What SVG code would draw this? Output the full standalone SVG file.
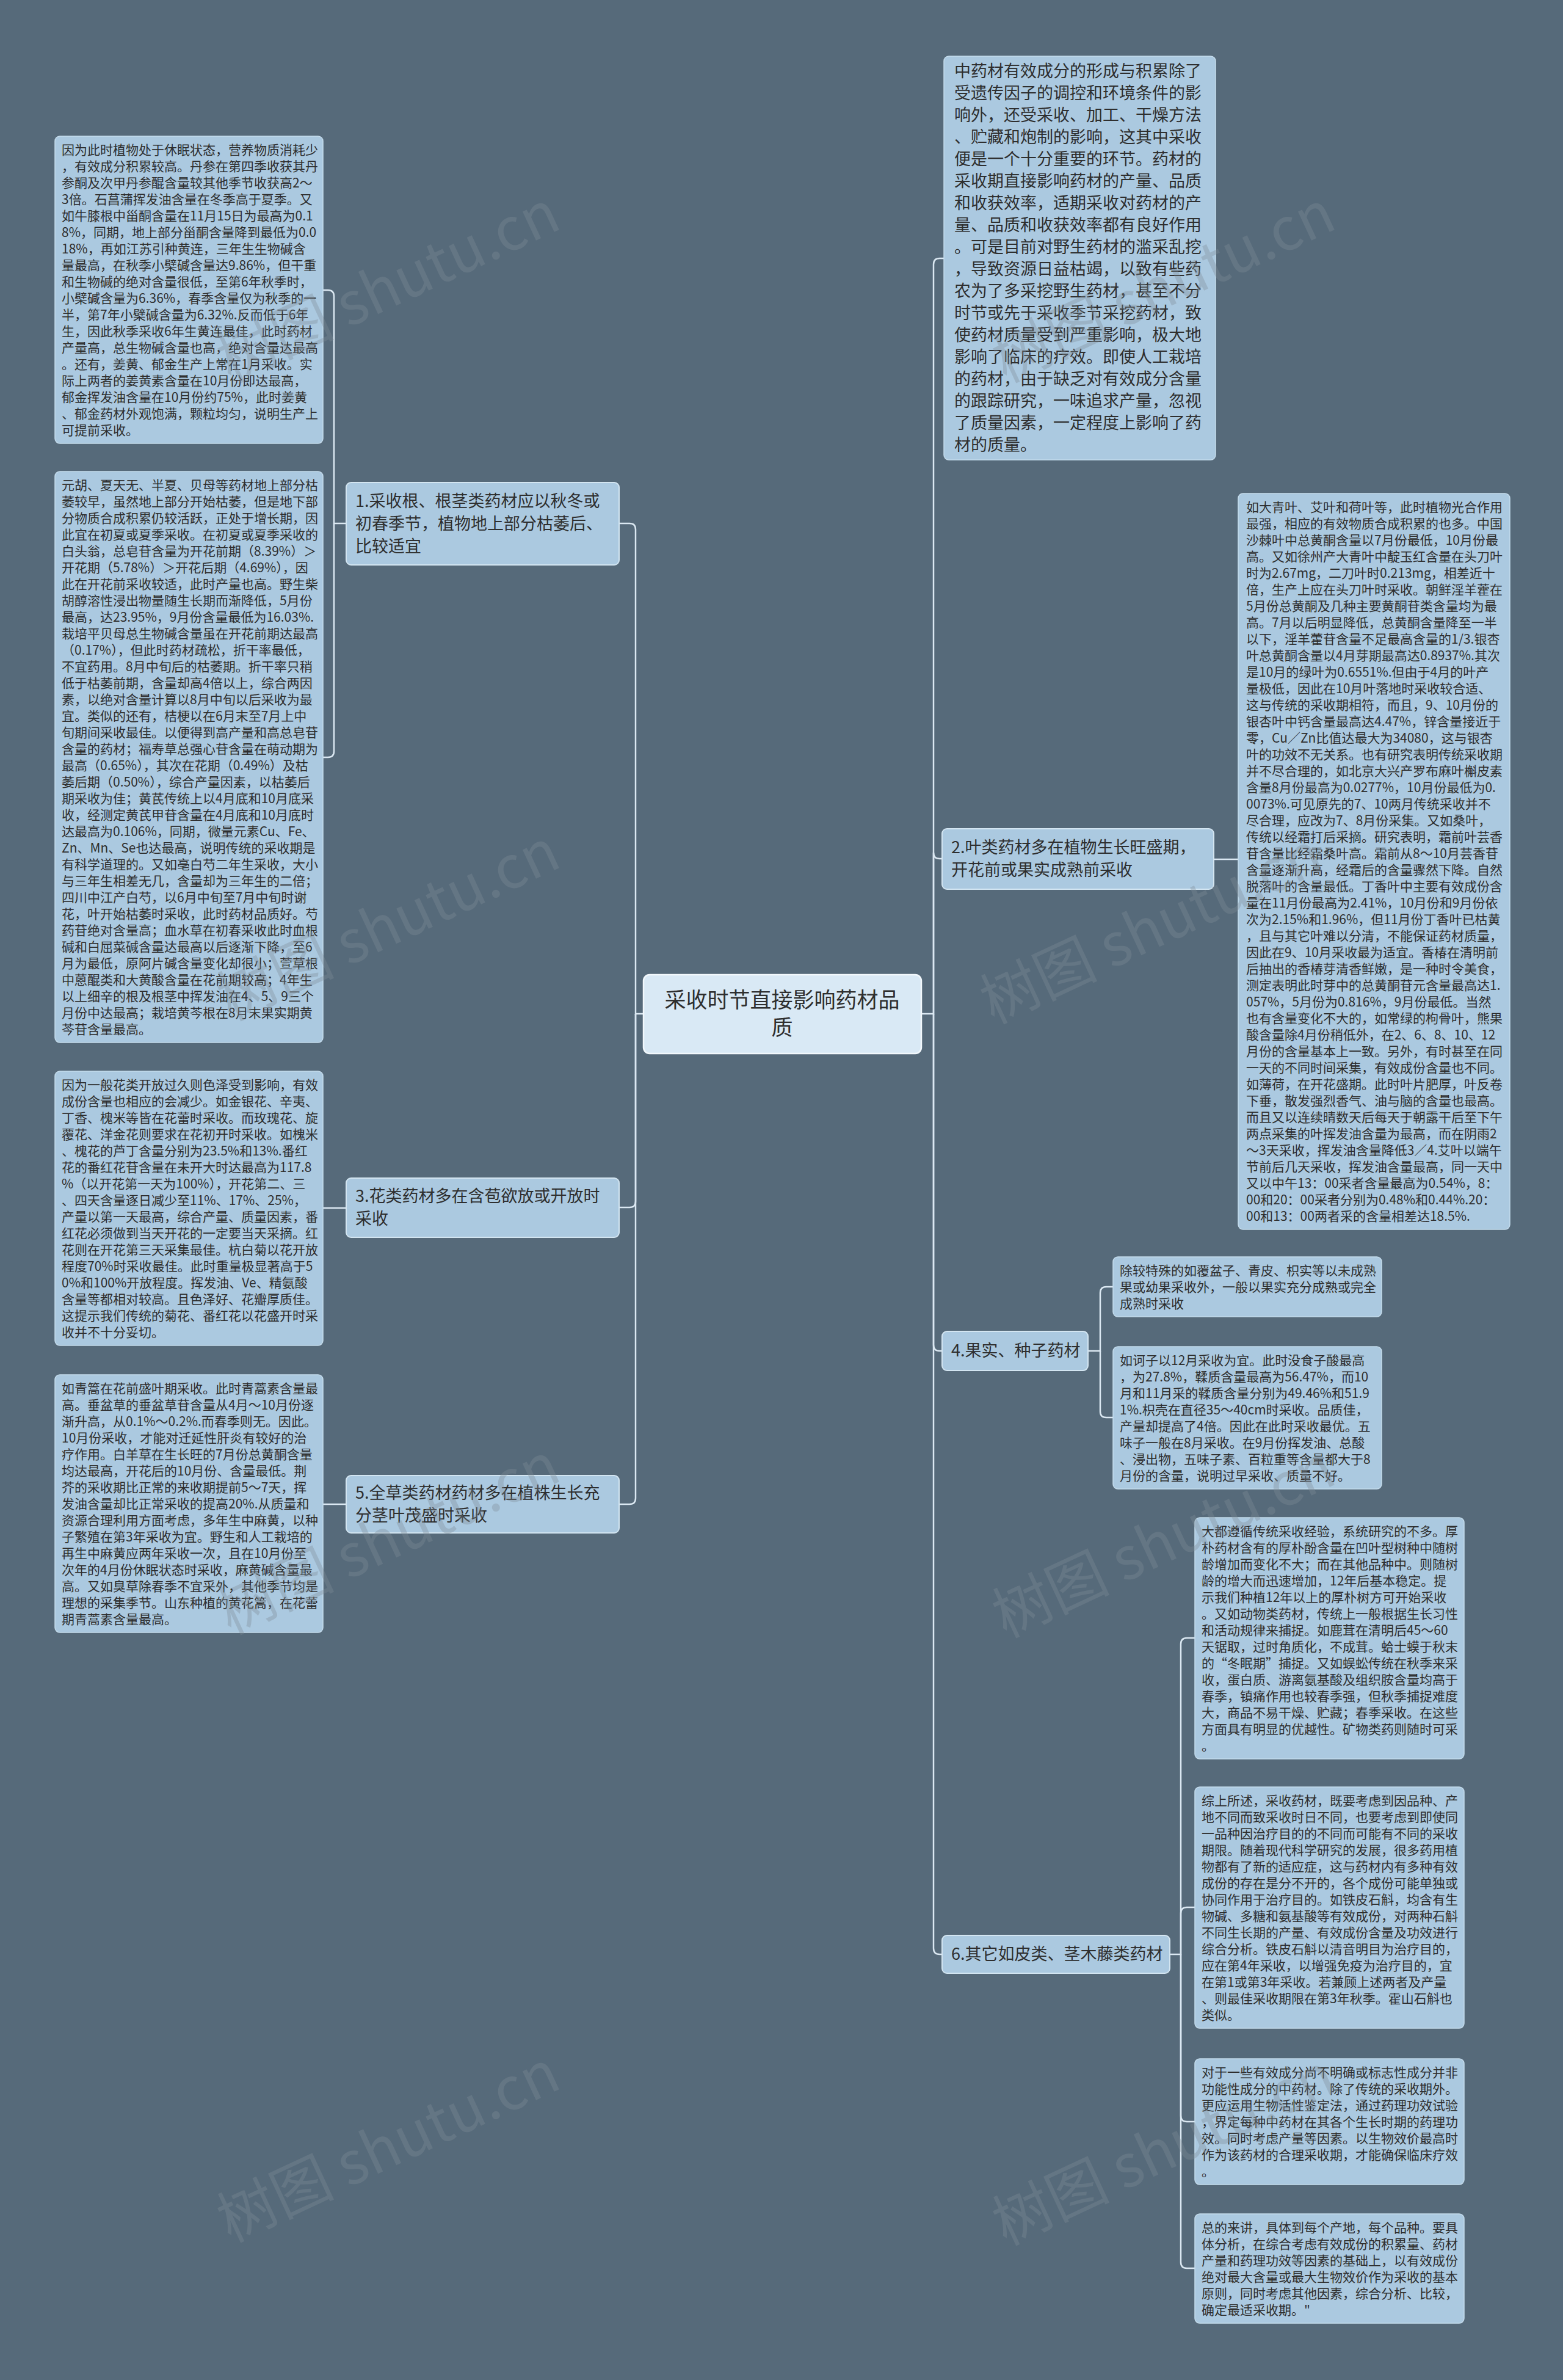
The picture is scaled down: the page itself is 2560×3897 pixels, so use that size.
<svg xmlns="http://www.w3.org/2000/svg" width="2560" height="3897" viewBox="0 0 2560 3897">
<style>
.bg{fill:#566a7a}
.box{fill:#abc9e0;stroke:#c4dbeb;stroke-width:1.5}
.bnode{fill:#abc9e0;stroke:#d3e5f1;stroke-width:2}
.cnode{fill:#d9e9f5;stroke:#f2f8fc;stroke-width:2.5}
.t{font-family:"Noto Sans CJK SC","Noto Sans",sans-serif;font-size:21px;fill:#2e2e2e}
.bt{font-family:"Noto Sans CJK SC","Noto Sans",sans-serif;font-size:27px;fill:#2e2e2e}
.ct{font-family:"Noto Sans CJK SC","Noto Sans",sans-serif;font-size:35px;fill:#2e2e2e;text-anchor:middle}
.link{fill:none;stroke:#dbe8f2;stroke-width:2.5}
.wm{font-family:"Noto Sans CJK SC","Noto Sans",sans-serif;font-size:96px;fill:#808d98;opacity:0.35;text-anchor:middle}
</style>
<rect class="bg" x="0" y="0" width="2560" height="3897"/>

<g id="connectors">
<!-- left side -->
<path class="link" d="M1054,1660 H1041 V867 Q1041,857 1031,857 H1014"/>
<path class="link" d="M1041,1660 V1967 Q1041,1977 1031,1977 H1014"/>
<path class="link" d="M1041,1660 V2453 Q1041,2463 1031,2463 H1014"/>
<path class="link" d="M567,857 H547 V485 Q547,475 537,475 H529"/>
<path class="link" d="M547,857 V1230 Q547,1240 537,1240 H529"/>
<path class="link" d="M567,1978 H529"/>
<path class="link" d="M567,2463 H529"/>
<!-- right side -->
<path class="link" d="M1509,1660 H1529 V433 Q1529,423 1539,423 H1546"/>
<path class="link" d="M1529,1660 V1396 Q1529,1406 1539,1406 H1543"/>
<path class="link" d="M1529,1660 V2202 Q1529,2212 1539,2212 H1543"/>
<path class="link" d="M1529,1660 V3190 Q1529,3200 1539,3200 H1543"/>
<path class="link" d="M1988,1407 H2028"/>
<path class="link" d="M1782,2212 H1802 V2117 Q1802,2107 1812,2107 H1823"/>
<path class="link" d="M1802,2212 V2311 Q1802,2321 1812,2321 H1823"/>
<path class="link" d="M1916,3200 H1934 V2692 Q1934,2682 1944,2682 H1957"/>
<path class="link" d="M1934,3200 V3133 Q1934,3123 1944,3123 H1957"/>
<path class="link" d="M1934,3200 V3464 Q1934,3474 1944,3474 H1957"/>
<path class="link" d="M1934,3200 V3704 Q1934,3714 1944,3714 H1957"/>
</g>

<g id="center">
<rect class="cnode" x="1054" y="1596" width="455" height="129" rx="10"/>
<text class="ct" y="1650"><tspan x="1281">采收时节直接影响药材品</tspan><tspan x="1281" dy="45">质</tspan></text>
</g>

<g id="branch1">
<rect class="bnode" x="567" y="790" width="447" height="135" rx="8"/>
<text class="bt" y="830"><tspan x="582">1.采收根、根茎类药材应以秋冬或</tspan><tspan x="582" dy="37">初春季节，植物地上部分枯萎后、</tspan><tspan x="582" dy="37">比较适宜</tspan></text>
</g>

<g id="branch3">
<rect class="bnode" x="567" y="1929" width="447" height="97" rx="8"/>
<text class="bt" y="1968"><tspan x="582">3.花类药材多在含苞欲放或开放时</tspan><tspan x="582" dy="37">采收</tspan></text>
</g>

<g id="branch5">
<rect class="bnode" x="567" y="2416" width="447" height="94" rx="8"/>
<text class="bt" y="2454"><tspan x="582">5.全草类药材药材多在植株生长充</tspan><tspan x="582" dy="37">分茎叶茂盛时采收</tspan></text>
</g>

<g id="branch2">
<rect class="bnode" x="1543" y="1357" width="445" height="99" rx="8"/>
<text class="bt" y="1397"><tspan x="1558">2.叶类药材多在植物生长旺盛期，</tspan><tspan x="1558" dy="37">开花前或果实成熟前采收</tspan></text>
</g>

<g id="branch4">
<rect class="bnode" x="1543" y="2180" width="239" height="64" rx="8"/>
<text class="bt" x="1558" y="2221">4.果实、种子药材</text>
</g>

<g id="branch6">
<rect class="bnode" x="1543" y="3169" width="373" height="62" rx="8"/>
<text class="bt" x="1558" y="3209">6.其它如皮类、茎木藤类药材</text>
</g>

<g id="intro">
<rect class="box" x="1546" y="92" width="445" height="661" rx="8"/>
<text class="bt" y="126"><tspan x="1563">中药材有效成分的形成与积累除了</tspan><tspan x="1563" dy="36">受遗传因子的调控和环境条件的影</tspan><tspan x="1563" dy="36">响外，还受采收、加工、干燥方法</tspan><tspan x="1563" dy="36">、贮藏和炮制的影响，这其中采收</tspan><tspan x="1563" dy="36">便是一个十分重要的环节。药材的</tspan><tspan x="1563" dy="36">采收期直接影响药材的产量、品质</tspan><tspan x="1563" dy="36">和收获效率，适期采收对药材的产</tspan><tspan x="1563" dy="36">量、品质和收获效率都有良好作用</tspan><tspan x="1563" dy="36">。可是目前对野生药材的滥采乱挖</tspan><tspan x="1563" dy="36">，导致资源日益枯竭，以致有些药</tspan><tspan x="1563" dy="36">农为了多采挖野生药材，甚至不分</tspan><tspan x="1563" dy="36">时节或先于采收季节采挖药材，致</tspan><tspan x="1563" dy="36">使药材质量受到严重影响，极大地</tspan><tspan x="1563" dy="36">影响了临床的疗效。即使人工栽培</tspan><tspan x="1563" dy="36">的药材，由于缺乏对有效成分含量</tspan><tspan x="1563" dy="36">的跟踪研究，一味追求产量，忽视</tspan><tspan x="1563" dy="36">了质量因素，一定程度上影响了药</tspan><tspan x="1563" dy="36">材的质量。</tspan></text>
</g>

<g id="leaf1a">
<rect class="box" x="90" y="223" width="439" height="503" rx="8"/>
<text class="t" y="253"><tspan x="101">因为此时植物处于休眠状态，营养物质消耗少</tspan><tspan x="101" dy="27">，有效成分积累较高。丹参在第四季收获其丹</tspan><tspan x="101" dy="27">参酮及次甲丹参醌含量较其他季节收获高2～</tspan><tspan x="101" dy="27">3倍。石菖蒲挥发油含量在冬季高于夏季。又</tspan><tspan x="101" dy="27">如牛膝根中甾酮含量在11月15日为最高为0.1</tspan><tspan x="101" dy="27">8%，同期，地上部分甾酮含量降到最低为0.0</tspan><tspan x="101" dy="27">18%，再如江苏引种黄连，三年生生物碱含</tspan><tspan x="101" dy="27">量最高，在秋季小檗碱含量达9.86%，但干重</tspan><tspan x="101" dy="27">和生物碱的绝对含量很低，至第6年秋季时，</tspan><tspan x="101" dy="27">小檗碱含量为6.36%，春季含量仅为秋季的一</tspan><tspan x="101" dy="27">半，第7年小檗碱含量为6.32%.反而低于6年</tspan><tspan x="101" dy="27">生，因此秋季采收6年生黄连最佳，此时药材</tspan><tspan x="101" dy="27">产量高，总生物碱含量也高，绝对含量达最高</tspan><tspan x="101" dy="27">。还有，姜黄、郁金生产上常在1月采收。实</tspan><tspan x="101" dy="27">际上两者的姜黄素含量在10月份即达最高，</tspan><tspan x="101" dy="27">郁金挥发油含量在10月份约75%，此时姜黄</tspan><tspan x="101" dy="27">、郁金药材外观饱满，颗粒均匀，说明生产上</tspan><tspan x="101" dy="27">可提前采收。</tspan></text>
</g>

<g id="leaf1b">
<rect class="box" x="90" y="772" width="439" height="935" rx="8"/>
<text class="t" y="802"><tspan x="101">元胡、夏天无、半夏、贝母等药材地上部分枯</tspan><tspan x="101" dy="27">萎较早，虽然地上部分开始枯萎，但是地下部</tspan><tspan x="101" dy="27">分物质合成积累仍较活跃，正处于增长期，因</tspan><tspan x="101" dy="27">此宜在初夏或夏季采收。在初夏或夏季采收的</tspan><tspan x="101" dy="27">白头翁，总皂苷含量为开花前期（8.39%）＞</tspan><tspan x="101" dy="27">开花期（5.78%）＞开花后期（4.69%），因</tspan><tspan x="101" dy="27">此在开花前采收较适，此时产量也高。野生柴</tspan><tspan x="101" dy="27">胡醇溶性浸出物量随生长期而渐降低，5月份</tspan><tspan x="101" dy="27">最高，达23.95%，9月份含量最低为16.03%.</tspan><tspan x="101" dy="27">栽培平贝母总生物碱含量虽在开花前期达最高</tspan><tspan x="101" dy="27">（0.17%），但此时药材疏松，折干率最低，</tspan><tspan x="101" dy="27">不宜药用。8月中旬后的枯萎期。折干率只稍</tspan><tspan x="101" dy="27">低于枯萎前期，含量却高4倍以上，综合两因</tspan><tspan x="101" dy="27">素，以绝对含量计算以8月中旬以后采收为最</tspan><tspan x="101" dy="27">宜。类似的还有，桔梗以在6月末至7月上中</tspan><tspan x="101" dy="27">旬期间采收最佳。以便得到高产量和高总皂苷</tspan><tspan x="101" dy="27">含量的药材；福寿草总强心苷含量在萌动期为</tspan><tspan x="101" dy="27">最高（0.65%），其次在花期（0.49%）及枯</tspan><tspan x="101" dy="27">萎后期（0.50%），综合产量因素，以枯萎后</tspan><tspan x="101" dy="27">期采收为佳；黄芪传统上以4月底和10月底采</tspan><tspan x="101" dy="27">收，经测定黄芪甲苷含量在4月底和10月底时</tspan><tspan x="101" dy="27">达最高为0.106%，同期，微量元素Cu、Fe、</tspan><tspan x="101" dy="27">Zn、Mn、Se也达最高，说明传统的采收期是</tspan><tspan x="101" dy="27">有科学道理的。又如亳白芍二年生采收，大小</tspan><tspan x="101" dy="27">与三年生相差无几，含量却为三年生的二倍；</tspan><tspan x="101" dy="27">四川中江产白芍，以6月中旬至7月中旬时谢</tspan><tspan x="101" dy="27">花，叶开始枯萎时采收，此时药材品质好。芍</tspan><tspan x="101" dy="27">药苷绝对含量高；血水草在初春采收此时血根</tspan><tspan x="101" dy="27">碱和白屈菜碱含量达最高以后逐渐下降，至6</tspan><tspan x="101" dy="27">月为最低，原阿片碱含量变化却很小；萱草根</tspan><tspan x="101" dy="27">中蒽醌类和大黄酸含量在花前期较高；4年生</tspan><tspan x="101" dy="27">以上细辛的根及根茎中挥发油在4、5、9三个</tspan><tspan x="101" dy="27">月份中达最高；栽培黄芩根在8月末果实期黄</tspan><tspan x="101" dy="27">芩苷含量最高。</tspan></text>
</g>

<g id="leaf3">
<rect class="box" x="90" y="1754" width="439" height="449" rx="8"/>
<text class="t" y="1784"><tspan x="101">因为一般花类开放过久则色泽受到影响，有效</tspan><tspan x="101" dy="27">成份含量也相应的会减少。如金银花、辛夷、</tspan><tspan x="101" dy="27">丁香、槐米等皆在花蕾时采收。而玫瑰花、旋</tspan><tspan x="101" dy="27">覆花、洋金花则要求在花初开时采收。如槐米</tspan><tspan x="101" dy="27">、槐花的芦丁含量分别为23.5%和13%.番红</tspan><tspan x="101" dy="27">花的番红花苷含量在未开大时达最高为117.8</tspan><tspan x="101" dy="27">%（以开花第一天为100%），开花第二、三</tspan><tspan x="101" dy="27">、四天含量逐日减少至11%、17%、25%，</tspan><tspan x="101" dy="27">产量以第一天最高，综合产量、质量因素，番</tspan><tspan x="101" dy="27">红花必须做到当天开花的一定要当天采摘。红</tspan><tspan x="101" dy="27">花则在开花第三天采集最佳。杭白菊以花开放</tspan><tspan x="101" dy="27">程度70%时采收最佳。此时重量极显著高于5</tspan><tspan x="101" dy="27">0%和100%开放程度。挥发油、Ve、精氨酸</tspan><tspan x="101" dy="27">含量等都相对较高。且色泽好、花瓣厚质佳。</tspan><tspan x="101" dy="27">这提示我们传统的菊花、番红花以花盛开时采</tspan><tspan x="101" dy="27">收并不十分妥切。</tspan></text>
</g>

<g id="leaf5">
<rect class="box" x="90" y="2251" width="439" height="422" rx="8"/>
<text class="t" y="2281"><tspan x="101">如青篙在花前盛叶期采收。此时青蒿素含量最</tspan><tspan x="101" dy="27">高。垂盆草的垂盆草苷含量从4月～10月份逐</tspan><tspan x="101" dy="27">渐升高，从0.1%～0.2%.而春季则无。因此。</tspan><tspan x="101" dy="27">10月份采收，才能对迁延性肝炎有较好的治</tspan><tspan x="101" dy="27">疗作用。白羊草在生长旺的7月份总黄酮含量</tspan><tspan x="101" dy="27">均达最高，开花后的10月份、含量最低。荆</tspan><tspan x="101" dy="27">芥的采收期比正常的来收期提前5～7天，挥</tspan><tspan x="101" dy="27">发油含量却比正常采收的提高20%.从质量和</tspan><tspan x="101" dy="27">资源合理利用方面考虑，多年生中麻黄，以种</tspan><tspan x="101" dy="27">子繁殖在第3年采收为宜。野生和人工栽培的</tspan><tspan x="101" dy="27">再生中麻黄应两年采收一次，且在10月份至</tspan><tspan x="101" dy="27">次年的4月份休眠状态时采收，麻黄碱含量最</tspan><tspan x="101" dy="27">高。又如臭草除春季不宜采外，其他季节均是</tspan><tspan x="101" dy="27">理想的采集季节。山东种植的黄花篙，在花蕾</tspan><tspan x="101" dy="27">期青蒿素含量最高。</tspan></text>
</g>

<g id="leaf2">
<rect class="box" x="2028" y="808" width="445" height="1205" rx="8"/>
<text class="t" y="838"><tspan x="2041">如大青叶、艾叶和荷叶等，此时植物光合作用</tspan><tspan x="2041" dy="27">最强，相应的有效物质合成积累的也多。中国</tspan><tspan x="2041" dy="27">沙棘叶中总黄酮含量以7月份最低，10月份最</tspan><tspan x="2041" dy="27">高。又如徐州产大青叶中靛玉红含量在头刀叶</tspan><tspan x="2041" dy="27">时为2.67mg，二刀叶时0.213mg，相差近十</tspan><tspan x="2041" dy="27">倍，生产上应在头刀叶时采收。朝鲜淫羊藿在</tspan><tspan x="2041" dy="27">5月份总黄酮及几种主要黄酮苷类含量均为最</tspan><tspan x="2041" dy="27">高。7月以后明显降低，总黄酮含量降至一半</tspan><tspan x="2041" dy="27">以下，淫羊藿苷含量不足最高含量的1/3.银杏</tspan><tspan x="2041" dy="27">叶总黄酮含量以4月芽期最高达0.8937%.其次</tspan><tspan x="2041" dy="27">是10月的绿叶为0.6551%.但由于4月的叶产</tspan><tspan x="2041" dy="27">量极低，因此在10月叶落地时采收较合适、</tspan><tspan x="2041" dy="27">这与传统的采收期相符，而且，9、10月份的</tspan><tspan x="2041" dy="27">银杏叶中钙含量最高达4.47%，锌含量接近于</tspan><tspan x="2041" dy="27">零，Cu／Zn比值达最大为34080，这与银杏</tspan><tspan x="2041" dy="27">叶的功效不无关系。也有研究表明传统采收期</tspan><tspan x="2041" dy="27">并不尽合理的，如北京大兴产罗布麻叶槲皮素</tspan><tspan x="2041" dy="27">含量8月份最高为0.0277%，10月份最低为0.</tspan><tspan x="2041" dy="27">0073%.可见原先的7、10两月传统采收并不</tspan><tspan x="2041" dy="27">尽合理，应改为7、8月份采集。又如桑叶，</tspan><tspan x="2041" dy="27">传统以经霜打后采摘。研究表明，霜前叶芸香</tspan><tspan x="2041" dy="27">苷含量比经霜桑叶高。霜前从8～10月芸香苷</tspan><tspan x="2041" dy="27">含量逐渐升高，经霜后的含量骤然下降。自然</tspan><tspan x="2041" dy="27">脱落叶的含量最低。丁香叶中主要有效成份含</tspan><tspan x="2041" dy="27">量在11月份最高为2.41%，10月份和9月份依</tspan><tspan x="2041" dy="27">次为2.15%和1.96%，但11月份丁香叶已枯黄</tspan><tspan x="2041" dy="27">，且与其它叶难以分清，不能保证药材质量，</tspan><tspan x="2041" dy="27">因此在9、10月采收最为适宜。香椿在清明前</tspan><tspan x="2041" dy="27">后抽出的香椿芽清香鲜嫩，是一种时令美食，</tspan><tspan x="2041" dy="27">测定表明此时芽中的总黄酮苷元含量最高达1.</tspan><tspan x="2041" dy="27">057%，5月份为0.816%，9月份最低。当然</tspan><tspan x="2041" dy="27">也有含量变化不大的，如常绿的枸骨叶，熊果</tspan><tspan x="2041" dy="27">酸含量除4月份稍低外，在2、6、8、10、12</tspan><tspan x="2041" dy="27">月份的含量基本上一致。另外，有时甚至在同</tspan><tspan x="2041" dy="27">一天的不同时间采集，有效成份含量也不同。</tspan><tspan x="2041" dy="27">如薄荷，在开花盛期。此时叶片肥厚，叶反卷</tspan><tspan x="2041" dy="27">下垂，散发强烈香气、油与脑的含量也最高。</tspan><tspan x="2041" dy="27">而且又以连续晴数天后每天于朝露干后至下午</tspan><tspan x="2041" dy="27">两点采集的叶挥发油含量为最高，而在阴雨2</tspan><tspan x="2041" dy="27">～3天采收，挥发油含量降低3／4.艾叶以端午</tspan><tspan x="2041" dy="27">节前后几天采收，挥发油含量最高，同一天中</tspan><tspan x="2041" dy="27">又以中午13：00采者含量最高为0.54%，8：</tspan><tspan x="2041" dy="27">00和20：00采者分别为0.48%和0.44%.20：</tspan><tspan x="2041" dy="27">00和13：00两者采的含量相差达18.5%.</tspan></text>
</g>

<g id="leaf4a">
<rect class="box" x="1823" y="2058" width="440" height="98" rx="8"/>
<text class="t" y="2088"><tspan x="1834">除较特殊的如覆盆子、青皮、枳实等以未成熟</tspan><tspan x="1834" dy="27">果或幼果采收外，一般以果实充分成熟或完全</tspan><tspan x="1834" dy="27">成熟时采收</tspan></text>
</g>

<g id="leaf4b">
<rect class="box" x="1823" y="2205" width="440" height="233" rx="8"/>
<text class="t" y="2235"><tspan x="1834">如诃子以12月采收为宜。此时没食子酸最高</tspan><tspan x="1834" dy="27">，为27.8%，鞣质含量最高为56.47%，而10</tspan><tspan x="1834" dy="27">月和11月采的鞣质含量分别为49.46%和51.9</tspan><tspan x="1834" dy="27">1%.枳壳在直径35～40cm时采收。品质佳，</tspan><tspan x="1834" dy="27">产量却提高了4倍。因此在此时采收最优。五</tspan><tspan x="1834" dy="27">味子一般在8月采收。在9月份挥发油、总酸</tspan><tspan x="1834" dy="27">、浸出物，五味子素、百粒重等含量都大于8</tspan><tspan x="1834" dy="27">月份的含量，说明过早采收、质量不好。</tspan></text>
</g>

<g id="leaf6a">
<rect class="box" x="1957" y="2485" width="441" height="395" rx="8"/>
<text class="t" y="2515"><tspan x="1968">大都遵循传统采收经验，系统研究的不多。厚</tspan><tspan x="1968" dy="27">朴药材含有的厚朴酚含量在凹叶型树种中随树</tspan><tspan x="1968" dy="27">龄增加而变化不大；而在其他品种中。则随树</tspan><tspan x="1968" dy="27">龄的增大而迅速增加，12年后基本稳定。提</tspan><tspan x="1968" dy="27">示我们种植12年以上的厚朴树方可开始采收</tspan><tspan x="1968" dy="27">。又如动物类药材，传统上一般根据生长习性</tspan><tspan x="1968" dy="27">和活动规律来捕捉。如鹿茸在清明后45～60</tspan><tspan x="1968" dy="27">天锯取，过时角质化，不成茸。蛤士蟆于秋末</tspan><tspan x="1968" dy="27">的“冬眠期”捕捉。又如蜈蚣传统在秋季来采</tspan><tspan x="1968" dy="27">收，蛋白质、游离氨基酸及组织胺含量均高于</tspan><tspan x="1968" dy="27">春季，镇痛作用也较春季强，但秋季捕捉难度</tspan><tspan x="1968" dy="27">大，商品不易干燥、贮藏；春季采收。在这些</tspan><tspan x="1968" dy="27">方面具有明显的优越性。矿物类药则随时可采</tspan><tspan x="1968" dy="27">。</tspan></text>
</g>

<g id="leaf6b">
<rect class="box" x="1957" y="2926" width="441" height="395" rx="8"/>
<text class="t" y="2956"><tspan x="1968">综上所述，采收药材，既要考虑到因品种、产</tspan><tspan x="1968" dy="27">地不同而致采收时日不同，也要考虑到即使同</tspan><tspan x="1968" dy="27">一品种因治疗目的的不同而可能有不同的采收</tspan><tspan x="1968" dy="27">期限。随着现代科学研究的发展，很多药用植</tspan><tspan x="1968" dy="27">物都有了新的适应症，这与药材内有多种有效</tspan><tspan x="1968" dy="27">成份的存在是分不开的，各个成份可能单独或</tspan><tspan x="1968" dy="27">协同作用于治疗目的。如铁皮石斛，均含有生</tspan><tspan x="1968" dy="27">物碱、多糖和氨基酸等有效成份，对两种石斛</tspan><tspan x="1968" dy="27">不同生长期的产量、有效成份含量及功效进行</tspan><tspan x="1968" dy="27">综合分析。铁皮石斛以清音明目为治疗目的，</tspan><tspan x="1968" dy="27">应在第4年采收，以增强免疫为治疗目的，宜</tspan><tspan x="1968" dy="27">在第1或第3年采收。若兼顾上述两者及产量</tspan><tspan x="1968" dy="27">、则最佳采收期限在第3年秋季。霍山石斛也</tspan><tspan x="1968" dy="27">类似。</tspan></text>
</g>

<g id="leaf6c">
<rect class="box" x="1957" y="3371" width="441" height="206" rx="8"/>
<text class="t" y="3401"><tspan x="1968">对于一些有效成分尚不明确或标志性成分并非</tspan><tspan x="1968" dy="27">功能性成分的中药材。除了传统的采收期外。</tspan><tspan x="1968" dy="27">更应运用生物活性鉴定法，通过药理功效试验</tspan><tspan x="1968" dy="27">，界定每种中药材在其各个生长时期的药理功</tspan><tspan x="1968" dy="27">效。同时考虑产量等因素。以生物效价最高时</tspan><tspan x="1968" dy="27">作为该药材的合理采收期，才能确保临床疗效</tspan><tspan x="1968" dy="27">。</tspan></text>
</g>

<g id="leaf6d">
<rect class="box" x="1957" y="3625" width="441" height="179" rx="8"/>
<text class="t" y="3655"><tspan x="1968">总的来讲，具体到每个产地，每个品种。要具</tspan><tspan x="1968" dy="27">体分析，在综合考虑有效成份的积累量、药材</tspan><tspan x="1968" dy="27">产量和药理功效等因素的基础上，以有效成份</tspan><tspan x="1968" dy="27">绝对最大含量或最大生物效价作为采收的基本</tspan><tspan x="1968" dy="27">原则，同时考虑其他因素，综合分析、比较，</tspan><tspan x="1968" dy="27">确定最适采收期。"</tspan></text>
</g>

<g id="watermark">
<text class="wm" transform="translate(650,500) rotate(-25)">树图 shutu.cn</text>
<text class="wm" transform="translate(1920,500) rotate(-25)">树图 shutu.cn</text>
<text class="wm" transform="translate(650,1545) rotate(-25)">树图 shutu.cn</text>
<text class="wm" transform="translate(1900,1550) rotate(-25)">树图 shutu.cn</text>
<text class="wm" transform="translate(650,2550) rotate(-25)">树图 shutu.cn</text>
<text class="wm" transform="translate(1920,2555) rotate(-25)">树图 shutu.cn</text>
<text class="wm" transform="translate(650,3545) rotate(-25)">树图 shutu.cn</text>
<text class="wm" transform="translate(1920,3550) rotate(-25)">树图 shutu.cn</text>
</g>
</svg>
